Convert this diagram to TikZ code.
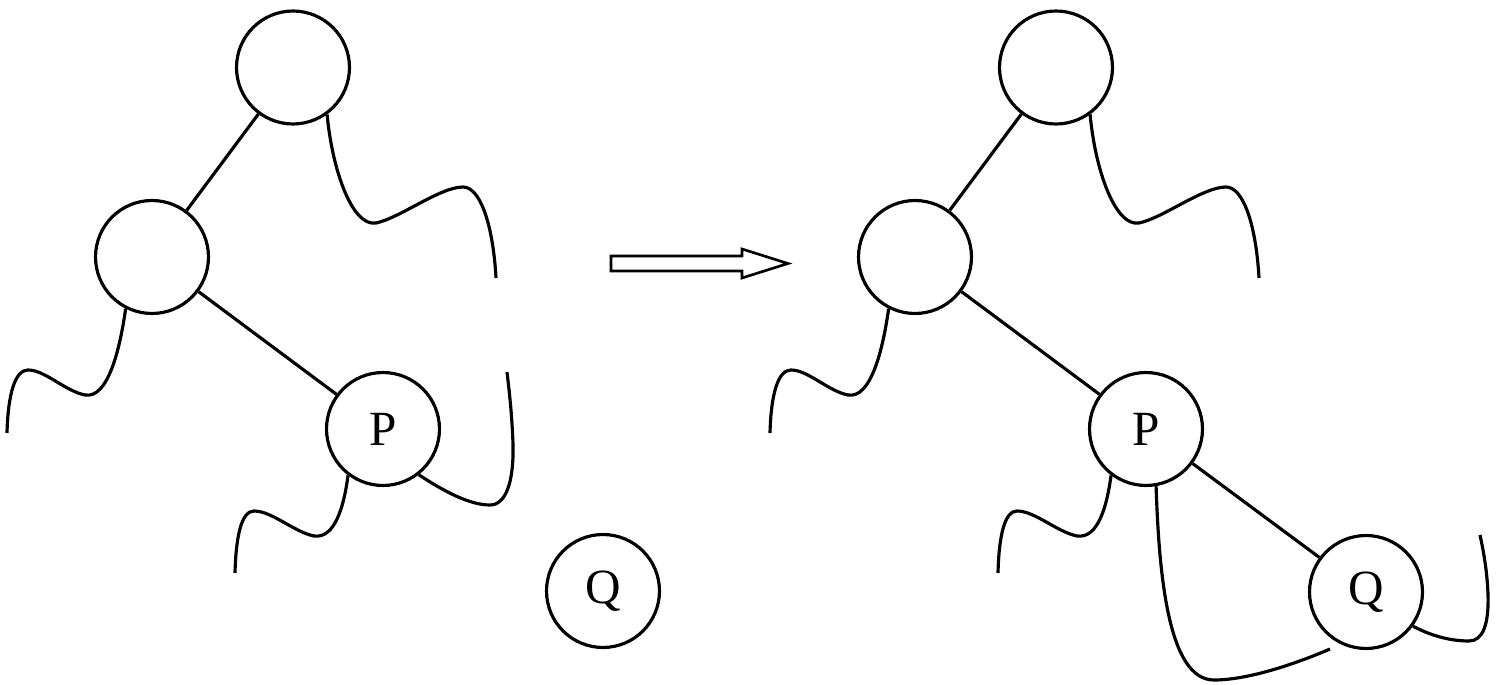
\documentclass[tikz,border=0pt]{standalone}
\usepackage{fontspec}
\setmainfont{Liberation Serif}
\tikzset{
  key/.style={circle, draw, line width=1.8pt, minimum size=2.26cm, inner sep=0,
    font=\fontsize{28}{30}\selectfont},
  branch/.style={line width=1.8pt},
  subtree/.style={line width=1.8pt},
  move arrow/.style={line width=1.5pt, line join=miter},
}
\begin{document}
\begin{tikzpicture}[x=0.02cm, y=0.02cm]
  \useasboundingbox (0,0) rectangle (1499,684);

  % ---- upper part of both trees: same shape, right copy shifted
  \foreach \s/\dx in {a/0, b/763} {
    \begin{scope}[xshift={\dx*0.02cm}]
      \node[key] (T\s) at (293,616.5) {};
      \node[key] (M\s) at (152,427) {};
      \node[key] (P\s) at (383,255) {P};
      \draw[branch] (T\s) -- (M\s);
      \draw[branch] (M\s) -- (P\s);
      \draw[subtree] (T\s.-54) .. controls (332,515) and (352,457) .. (376,461)
        .. controls (400,466) and (440,497) .. (463,497)
        .. controls (480,497) and (493,460) .. (496,406);
      \draw[subtree] (M\s.-117) .. controls (120,335) and (108,285) .. (85,289)
        .. controls (65,293) and (45,314) .. (28,314)
        .. controls (15,314) and (8,290) .. (7,251);
      \draw[subtree] (P\s.-127) .. controls (344,178) and (335,145) .. (314,148)
        .. controls (294,152) and (272,173) .. (254,173)
        .. controls (242,173) and (236,150) .. (235,111);
    \end{scope}
  }

  % ---- before: Q apart, P's right subtree
  \node[key] (Qa) at (603,93) {Q};
  \draw[subtree] (Pa.-52) .. controls (445,192) and (470,179) .. (490,179)
    .. controls (505,179) and (514,200) .. (513,240)
    .. controls (512,270) and (509,295) .. (507,312);

  % ---- hollow arrow
  \draw[move arrow] (611,413) -- (742,413) -- (742,406) -- (788,420.5)
    -- (742,435) -- (742,428) -- (611,428) -- cycle;

  % ---- after: Q hung below P
  \node[key] (Qb) at (1366,92) {Q};
  \draw[branch] (Pb) -- (Qb);
  \draw[subtree] (Pb.-80) .. controls (1159,110) and (1168,4) .. (1214,4)
    .. controls (1250,4) and (1300,22) .. (1330,35);
  \draw[subtree] (Qb.-36) .. controls (1435,46) and (1455,43) .. (1469,43)
    .. controls (1483,43) and (1489,60) .. (1488,90)
    .. controls (1487,115) and (1483,135) .. (1480,149);

\end{tikzpicture}
\end{document}
